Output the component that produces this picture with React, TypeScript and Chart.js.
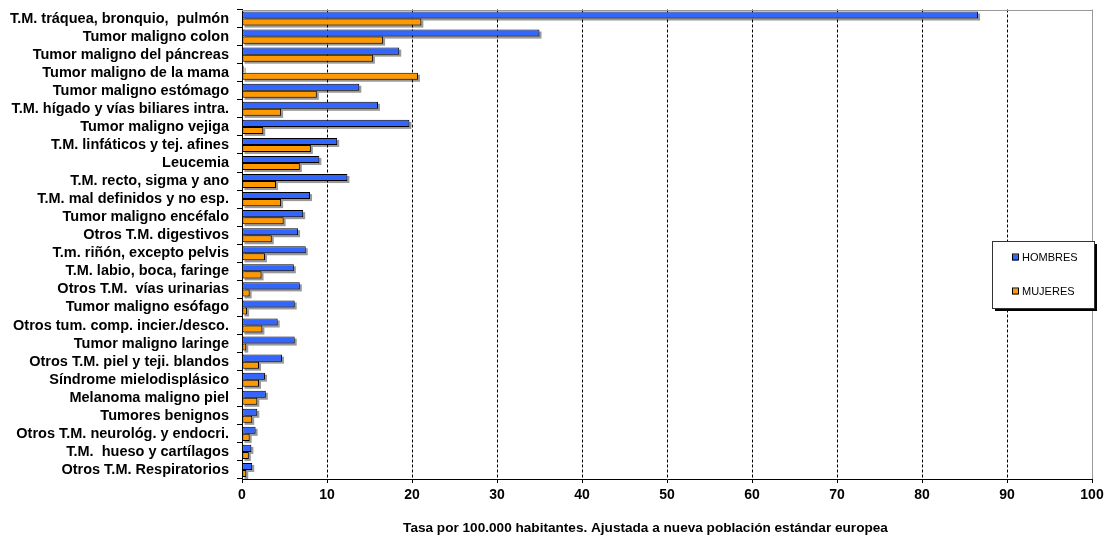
import { useEffect, useRef } from 'react';
import { Chart, registerables } from 'chart.js';

Chart.register(...registerables);

const categories = [
  'T.M. tráquea, bronquio,  pulmón',
  'Tumor maligno colon',
  'Tumor maligno del páncreas',
  'Tumor maligno de la mama',
  'Tumor maligno estómago',
  'T.M. hígado y vías biliares intra.',
  'Tumor maligno vejiga',
  'T.M. linfáticos y tej. afines',
  'Leucemia',
  'T.M. recto, sigma y ano',
  'T.M. mal definidos y no esp.',
  'Tumor maligno encéfalo',
  'Otros T.M. digestivos',
  'T.m. riñón, excepto pelvis',
  'T.M. labio, boca, faringe',
  'Otros T.M.  vías urinarias',
  'Tumor maligno esófago',
  'Otros tum. comp. incier./desco.',
  'Tumor maligno laringe',
  'Otros T.M. piel y teji. blandos',
  'Síndrome mielodisplásico',
  'Melanoma maligno piel',
  'Tumores benignos',
  'Otros T.M. neurológ. y endocri.',
  'T.M.  hueso y cartílagos',
  'Otros T.M. Respiratorios',
];

const hombres = [
  86.6, 35.0, 18.5, 0.2, 13.8, 16.0, 19.7, 11.2, 9.1, 12.4, 8.0, 7.2, 6.6,
  7.5, 6.1, 6.8, 6.2, 4.2, 6.2, 4.7, 2.7, 2.8, 1.8, 1.6, 1.1, 1.2,
];

const mujeres = [
  21.1, 16.6, 15.4, 20.7, 8.8, 4.6, 2.5, 8.1, 6.8, 4.0, 4.6, 4.9, 3.5,
  2.7, 2.3, 0.9, 0.6, 2.4, 0.5, 2.0, 2.0, 1.8, 1.2, 0.9, 0.8, 0.5,
];

const seriesNames = ['HOMBRES', 'MUJERES'];
const seriesColors = ['#3366FF', '#FF9900'];
const axisTitle = 'Tasa por 100.000 habitantes. Ajustada a nueva población estándar europea';

const FONT = '"Liberation Sans", Arial, sans-serif';

const gridPlugin = {
  id: 'excelGrid',
  beforeDatasetsDraw(chart: any) {
    const { ctx, chartArea, scales } = chart;
    const xs = scales.x;
    ctx.save();
    ctx.lineWidth = 1;
    for (const t of xs.ticks) {
      const v = t.value;
      const px = Math.round(xs.getPixelForValue(v)) + 0.5;
      if (v > 0 && v < 100) {
        ctx.strokeStyle = '#000';
        ctx.setLineDash([3, 2]);
        ctx.beginPath();
        ctx.moveTo(px, chartArea.top);
        ctx.lineTo(px, chartArea.bottom);
        ctx.stroke();
      } else if (v === 100) {
        ctx.strokeStyle = '#999';
        ctx.setLineDash([]);
        ctx.beginPath();
        ctx.moveTo(px, chartArea.top);
        ctx.lineTo(px, chartArea.bottom);
        ctx.stroke();
      }
    }
    ctx.setLineDash([]);
    ctx.strokeStyle = '#999';
    const ty = Math.round(chartArea.top) + 0.5;
    ctx.beginPath();
    ctx.moveTo(chartArea.left, ty);
    ctx.lineTo(chartArea.right, ty);
    ctx.stroke();
    ctx.restore();
  },
};

const shadowPlugin = {
  id: 'barShadow',
  beforeDatasetsDraw(chart: any) {
    const { ctx } = chart;
    ctx.save();
    ctx.fillStyle = 'rgba(0,0,0,0.4)';
    chart.data.datasets.forEach((_d: any, i: number) => {
      const meta = chart.getDatasetMeta(i);
      meta.data.forEach((el: any) => {
        const p = el.getProps(['x', 'y', 'base', 'height'], true);
        const l = Math.min(p.base, p.x);
        const w = Math.abs(p.x - p.base);
        ctx.fillRect(l + 2, p.y - p.height / 2 + 2, w, p.height);
      });
    });
    ctx.restore();
  },
};

const legendPlugin = {
  id: 'excelLegend',
  afterDraw(chart: any) {
    const { ctx } = chart;
    const bx = 992;
    const by = 241;
    const bw = 102;
    const bh = 67;
    ctx.save();
    ctx.fillStyle = '#000';
    ctx.fillRect(bx + 3, by + 3, bw, bh);
    ctx.fillStyle = '#fff';
    ctx.fillRect(bx, by, bw, bh);
    ctx.strokeStyle = '#333';
    ctx.lineWidth = 1;
    ctx.strokeRect(bx + 0.5, by + 0.5, bw, bh);
    ctx.font = `11px ${FONT}`;
    ctx.textBaseline = 'middle';
    ctx.textAlign = 'left';
    chart.data.datasets.forEach((d: any, i: number) => {
      const cy = 257.5 + i * 34;
      ctx.fillStyle = d.backgroundColor;
      ctx.fillRect(1012, cy - 3, 6, 6);
      ctx.strokeStyle = '#000';
      ctx.strokeRect(1012.5, cy - 3.5, 6, 6);
      ctx.fillStyle = '#000';
      ctx.fillText(d.label, 1022, cy);
    });
    ctx.restore();
  },
};

const titlePlugin = {
  id: 'axisTitleText',
  afterDraw(chart: any) {
    const { ctx } = chart;
    ctx.save();
    ctx.font = `bold 13.6px ${FONT}`;
    ctx.fillStyle = '#000';
    ctx.textAlign = 'center';
    ctx.textBaseline = 'middle';
    ctx.fillText(axisTitle, 645.5, 528);
    ctx.restore();
  },
};

export default function App() {
  const ref = useRef<HTMLCanvasElement | null>(null);

  useEffect(() => {
    document.body.style.margin = '0';
    if (!ref.current) return;
    const chart = new Chart(ref.current, {
      type: 'bar',
      data: {
        labels: categories,
        datasets: [
          {
            label: seriesNames[0],
            data: hombres,
            backgroundColor: seriesColors[0],
            borderColor: '#000',
            borderWidth: 1,
            borderSkipped: false,
            categoryPercentage: 0.78,
            barPercentage: 1,
          },
          {
            label: seriesNames[1],
            data: mujeres,
            backgroundColor: seriesColors[1],
            borderColor: '#000',
            borderWidth: 1,
            borderSkipped: false,
            categoryPercentage: 0.78,
            barPercentage: 1,
          },
        ],
      },
      options: {
        indexAxis: 'y',
        animation: false,
        responsive: true,
        maintainAspectRatio: false,
        layout: { padding: { left: 0, right: 19, top: 9.5, bottom: 0 } },
        plugins: {
          legend: { display: false },
          tooltip: { enabled: false },
        },
        scales: {
          x: {
            min: 0,
            max: 100,
            ticks: {
              stepSize: 10,
              color: '#000',
              font: { family: FONT, size: 14, weight: 'bold' },
              padding: 4,
              maxRotation: 0,
            },
            grid: {
              display: true,
              drawOnChartArea: false,
              tickLength: 4,
              color: '#000',
            },
            border: { display: true, color: '#000', width: 1 },
            afterFit: (s: any) => {
              s.height = 60;
              s.paddingLeft = 0;
              s.paddingRight = 0;
            },
          },
          y: {
            ticks: {
              color: '#000',
              font: { family: FONT, size: 14.5, weight: 'bold' },
              padding: 8,
              autoSkip: false,
            },
            grid: {
              display: true,
              drawOnChartArea: false,
              offset: true,
              tickLength: 5,
              color: '#000',
            },
            border: { display: true, color: '#000', width: 1 },
            afterFit: (s: any) => {
              s.width = 242;
              s.paddingTop = 0;
              s.paddingBottom = 0;
            },
          },
        },
      },
      plugins: [gridPlugin, shadowPlugin, legendPlugin, titlePlugin],
    });
    return () => chart.destroy();
  }, []);

  return (
    <div style={{ position: 'absolute', left: 0, top: 0, width: 1111, height: 539 }}>
      <canvas ref={ref} />
    </div>
  );
}
